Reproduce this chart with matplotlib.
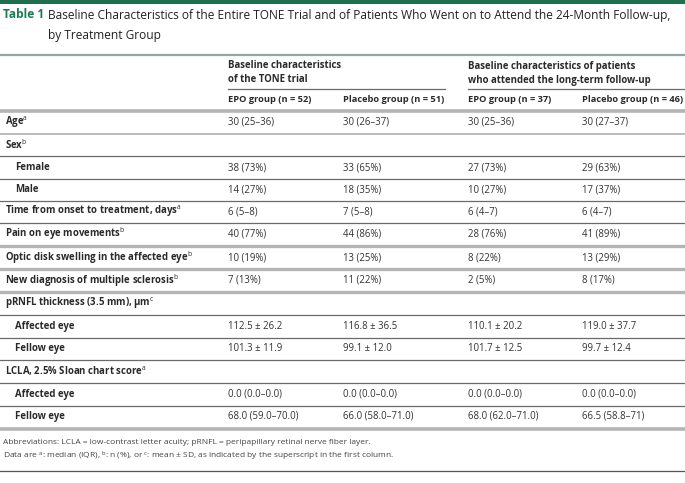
import matplotlib
matplotlib.use("Agg")
import matplotlib.pyplot as plt

plt.rcParams['font.family'] = ['Open Sans', 'DejaVu Sans']
plt.rcParams['mathtext.fontset'] = 'custom'
plt.rcParams['mathtext.rm'] = 'Open Sans'
plt.rcParams['mathtext.it'] = 'Open Sans'
plt.rcParams['mathtext.bf'] = 'Open Sans:bold'

title_label = "Table 1"
title_lines = ["Baseline Characteristics of the Entire TONE Trial and of Patients Who Went on to Attend the 24-Month Follow-up,",
               "by Treatment Group"]
group_headers = [["Baseline characteristics", "of the TONE trial"],
                 ["Baseline characteristics of patients", "who attended the long-term follow-up"]]
col_headers = ["EPO group (n = 52)", "Placebo group (n = 51)", "EPO group (n = 37)", "Placebo group (n = 46)"]

row_labels = ["Age", "Sex", "Female", "Male", "Time from onset to treatment, days",
              "Pain on eye movements", "Optic disk swelling in the affected eye",
              "New diagnosis of multiple sclerosis", "pRNFL thickness (3.5 mm), μm",
              "Affected eye", "Fellow eye", "LCLA, 2.5% Sloan chart score",
              "Affected eye", "Fellow eye"]
row_sups = ["a", "b", "", "", "a", "b", "b", "b", "c", "", "", "a", "", ""]
row_indent = [0, 0, 1, 1, 0, 0, 0, 0, 0, 1, 1, 0, 1, 1]

epo_tone = ["30 (25–36)", "", "38 (73%)", "14 (27%)", "6 (5–8)", "40 (77%)", "10 (19%)",
            "7 (13%)", "", "112.5 ± 26.2", "101.3 ± 11.9", "", "0.0 (0.0–0.0)", "68.0 (59.0–70.0)"]
plc_tone = ["30 (26–37)", "", "33 (65%)", "18 (35%)", "7 (5–8)", "44 (86%)", "13 (25%)",
            "11 (22%)", "", "116.8 ± 36.5", "99.1 ± 12.0", "", "0.0 (0.0–0.0)", "66.0 (58.0–71.0)"]
epo_fu = ["30 (25–36)", "", "27 (73%)", "10 (27%)", "6 (4–7)", "28 (76%)", "8 (22%)",
          "2 (5%)", "", "110.1 ± 20.2", "101.7 ± 12.5", "", "0.0 (0.0–0.0)", "68.0 (62.0–71.0)"]
plc_fu = ["30 (27–37)", "", "29 (63%)", "17 (37%)", "6 (4–7)", "41 (89%)", "13 (29%)",
          "8 (17%)", "", "119.0 ± 37.7", "99.7 ± 12.4", "", "0.0 (0.0–0.0)", "66.5 (58.8–71)"]

footnote_lines = ["Abbreviations: LCLA = low-contrast letter acuity; pRNFL = peripapillary retinal nerve fiber layer.",
                  "Data are $^{\\mathrm{a}}$: median (IQR), $^{\\mathrm{b}}$: n (%), or $^{\\mathrm{c}}$: mean ± SD, as indicated by the superscript in the first column."]

W, H = 685, 483
fig = plt.figure(figsize=(W / 100, H / 100), dpi=100)
ax = fig.add_axes([0, 0, 1, 1])
ax.set_xlim(0, W)
ax.set_ylim(H, 0)
ax.axis('off')

green = "#1c7a52"
txt = "#333333"
bold_txt = "#2a2a2a"
light = "#b4b4b4"
dark = "#6a6a6a"

# top green bar
ax.fill_between([0, W], 0, 3.5, color="#1f6f4e", lw=0)

# title
ax.text(3, 15, title_label, color=green, fontsize=8.6, fontweight='bold', va='center', ha='left')
ax.text(48, 15, title_lines[0], color="#222222", fontsize=8.6, va='center', ha='left')
ax.text(48, 36, title_lines[1], color="#222222", fontsize=8.6, va='center', ha='left')
ax.plot([0, W], [55, 55], color="#8fa89c", lw=1.6, solid_capstyle='butt')

col_x = [228, 343, 468, 582]
fs = 6.9
hfs = 6.7

# group headers
for gi, gx in enumerate([228, 468]):
    ax.text(gx, 66, group_headers[gi][0], color=bold_txt, fontsize=fs, fontweight='bold', va='center')
    ax.text(gx, 80, group_headers[gi][1], color=bold_txt, fontsize=fs, fontweight='bold', va='center')
ax.plot([228, 445], [88.5, 88.5], color=dark, lw=0.9)
ax.plot([468, W], [88.5, 88.5], color=dark, lw=0.9)

for cx, h in zip(col_x, col_headers):
    ax.text(cx, 99.5, h, color=bold_txt, fontsize=hfs, fontweight='bold', va='center')

ax.plot([0, W], [110.5, 110.5], color=light, lw=2.6)

row_y = [122, 145, 167.5, 189.5, 211.5, 234, 257.5, 280.5, 303.5, 326.5, 348.5, 371, 394, 416.5]
line_y = [133.5, 155.5, 178.5, 200.5, 222.5, 245.5, 269, 292, 314.5, 337.5, 359.5, 382.5, 405.5]
line_style = ['mid', 'dark', 'dark', 'dark', 'dark', 'light', 'light', 'light',
              'dark', 'dark', 'dark', 'dark', 'dark']

cols = [epo_tone, plc_tone, epo_fu, plc_fu]
for i, lab in enumerate(row_labels):
    y = row_y[i]
    x = 15 if row_indent[i] else 5
    s = lab
    if row_sups[i]:
        s = lab + "$^{\\mathrm{" + row_sups[i] + "}}$"
    ax.text(x, y, s, color=bold_txt, fontsize=fs, fontweight='bold', va='center', ha='left')
    for cx, col in zip(col_x, cols):
        if col[i]:
            ax.text(cx, y, col[i], color=txt, fontsize=fs, va='center', ha='left')

for ly, st in zip(line_y, line_style):
    if st == 'light':
        ax.plot([0, W], [ly, ly], color=light, lw=2.4)
    elif st == 'mid':
        ax.plot([0, W], [ly, ly], color="#a8a8a8", lw=1.1)
    else:
        ax.plot([0, W], [ly, ly], color=dark, lw=0.9)

ax.plot([0, W], [428.5, 428.5], color=light, lw=2.6)

ax.text(3, 443, footnote_lines[0], color="#444444", fontsize=6.0, va='center', ha='left')
ax.text(3, 456, footnote_lines[1], color="#444444", fontsize=6.0, va='center', ha='left')

ax.plot([0, W], [470.5, 470.5], color="#555555", lw=0.9)

fig.savefig("out.png", dpi=100)
